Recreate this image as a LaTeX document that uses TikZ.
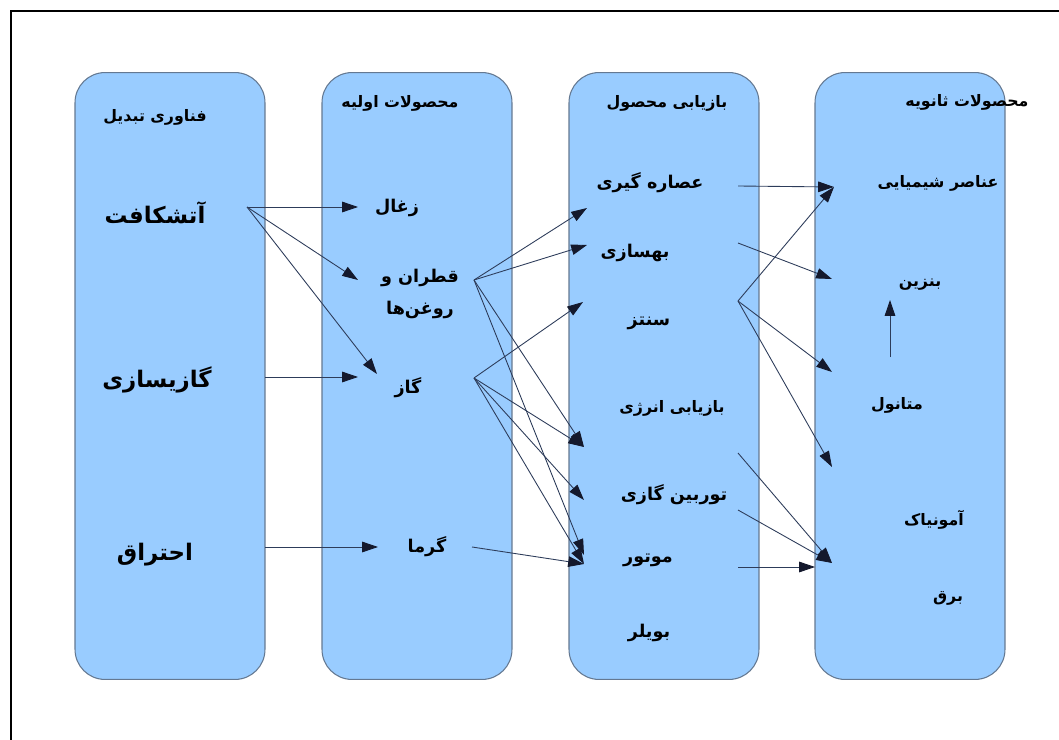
\documentclass[tikz,border=0pt]{standalone}
\usepackage{fontspec}
\usetikzlibrary{arrows.meta}
\TeXXeTstate=1
\newfontfamily\arabicfont[Script=Arabic]{DejaVu Sans}
\newcommand{\rtl}[1]{\beginR #1\endR}

\definecolor{boxfill}{RGB}{153,204,255}
\definecolor{boxline}{RGB}{100,120,145}
\definecolor{flowline}{RGB}{45,60,90}
\definecolor{tipfill}{RGB}{20,25,45}

\tikzset{
	column/.style={draw=boxline,fill=boxfill,line width=0.6pt,rounded corners=0.6cm,minimum width=3.8cm,minimum height=12.14cm},
	head/.style={font=\arabicfont\bfseries\fontsize{9}{11}\selectfont},
	term/.style={font=\arabicfont\bfseries\fontsize{10}{18}\selectfont,align=center},
	big/.style={font=\arabicfont\bfseries\fontsize{13}{16}\selectfont},
	flow/.style={draw=flowline,line width=0.5pt,-{Triangle[length=9pt,width=6pt,color=tipfill]}}
}

\begin{document}
\begin{tikzpicture}[x=0.02cm,y=-0.02cm]

\useasboundingbox (0,0) rectangle (1059,740);
\draw[line width=1.7pt] (11,740) -- (11,11) -- (1059,11);

% the four columns
\foreach \name/\cx in {conv/170,prim/417,reco/664,seco/910} {
	\node[column] (\name) at (\cx,376) {};
}

% headers
\node[head] (h1) at (155,117) {\rtl{فناوری تبدیل}};
\node[head] (h2) at (400,103) {\rtl{محصولات اولیه}};
\node[head] (h3) at (667,103) {\rtl{بازیابی محصول}};
\node[head] (h4) at (967,102) {\rtl{محصولات ثانویه}};

% conversion
\node[big] (crack) at (155,213) {\rtl{آتشکافت}};
\node[big] (gasify) at (157,380) {\rtl{گازیسازی}};
\node[big] (combust) at (155,555) {\rtl{احتراق}};

% primary products
\node[term] (char) at (397,208) {\rtl{زغال}};
\node[term] (tar) at (420,294) {\rtl{قطران و}\\\rtl{روغن‌ها}};
\node[term] (gas) at (408,388) {\rtl{گاز}};
\node[term] (heat) at (427,547) {\rtl{گرما}};

% product recovery
\node[term] (extract) at (650,183) {\rtl{عصاره گیری}};
\node[term] (upgrade) at (635,253) {\rtl{بهسازی}};
\node[term] (synth) at (649,323) {\rtl{سنتز}};
\node[head] (energy) at (672,408) {\rtl{بازیابی انرژی}};
\node[term] (turbine) at (674,495) {\rtl{توربین گازی}};
\node[term] (engine) at (648,560) {\rtl{موتور}};
\node[term] (boiler) at (649,633) {\rtl{بویلر}};

% secondary products
\node[head] (chem) at (938,183) {\rtl{عناصر شیمیایی}};
\node[head] (petrol) at (920,285) {\rtl{بنزین}};
\node[head] (methanol) at (897,405) {\rtl{متانول}};
\node[head] (ammonia) at (934,520) {\rtl{آمونیاک}};
\node[head] (power) at (948,598) {\rtl{برق}};

% arrow ends
\coordinate (crack-o) at (247,207);
\coordinate (gasify-o) at (265,377);
\coordinate (combust-o) at (265,547);
\coordinate (char-i) at (358,207);
\coordinate (tar-i) at (358,280);
\coordinate (gas-i) at (377,374);
\coordinate (gas-j) at (358,377);
\coordinate (heat-i) at (378,547);
\coordinate (tar-o) at (474,280);
\coordinate (gas-o) at (474,378);
\coordinate (heat-o) at (472,547);
\coordinate (extract-i) at (587,208);
\coordinate (upgrade-i) at (587,245);
\coordinate (synth-i) at (583,302);
\coordinate (energy-i) at (584,447);
\coordinate (turbine-i) at (584,500);
\coordinate (engine-i) at (584,555);
\coordinate (engine-j) at (584,564);
\coordinate (extract-o) at (738,186);
\coordinate (upgrade-o) at (738,243);
\coordinate (synth-o) at (738,301);
\coordinate (energy-o) at (738,453);
\coordinate (turbine-o) at (738,510);
\coordinate (engine-o) at (738,567);
\coordinate (chem-i) at (834,187);
\coordinate (petrol-i) at (832,279);
\coordinate (methanol-i) at (832,372);
\coordinate (ammonia-i) at (832,467);
\coordinate (power-i) at (832,563);
\coordinate (power-j) at (815,567);
\coordinate (methanol-o) at (890,357);
\coordinate (petrol-j) at (890,300);

% conversion -> primary
\foreach \a/\b in {crack-o/char-i,crack-o/tar-i,crack-o/gas-i,gasify-o/gas-j,combust-o/heat-i} {
	\draw[flow] (\a) -- (\b);
}

% primary -> recovery
\foreach \a/\b in {tar-o/extract-i,tar-o/upgrade-i,tar-o/energy-i,tar-o/engine-i,
	gas-o/synth-i,gas-o/energy-i,gas-o/turbine-i,gas-o/engine-j,heat-o/engine-j} {
	\draw[flow] (\a) -- (\b);
}

% recovery -> secondary
\foreach \a/\b in {extract-o/chem-i,upgrade-o/petrol-i,synth-o/chem-i,synth-o/methanol-i,
	synth-o/ammonia-i,energy-o/power-i,turbine-o/power-i,engine-o/power-j,methanol-o/petrol-j} {
	\draw[flow] (\a) -- (\b);
}

\end{tikzpicture}
\end{document}
